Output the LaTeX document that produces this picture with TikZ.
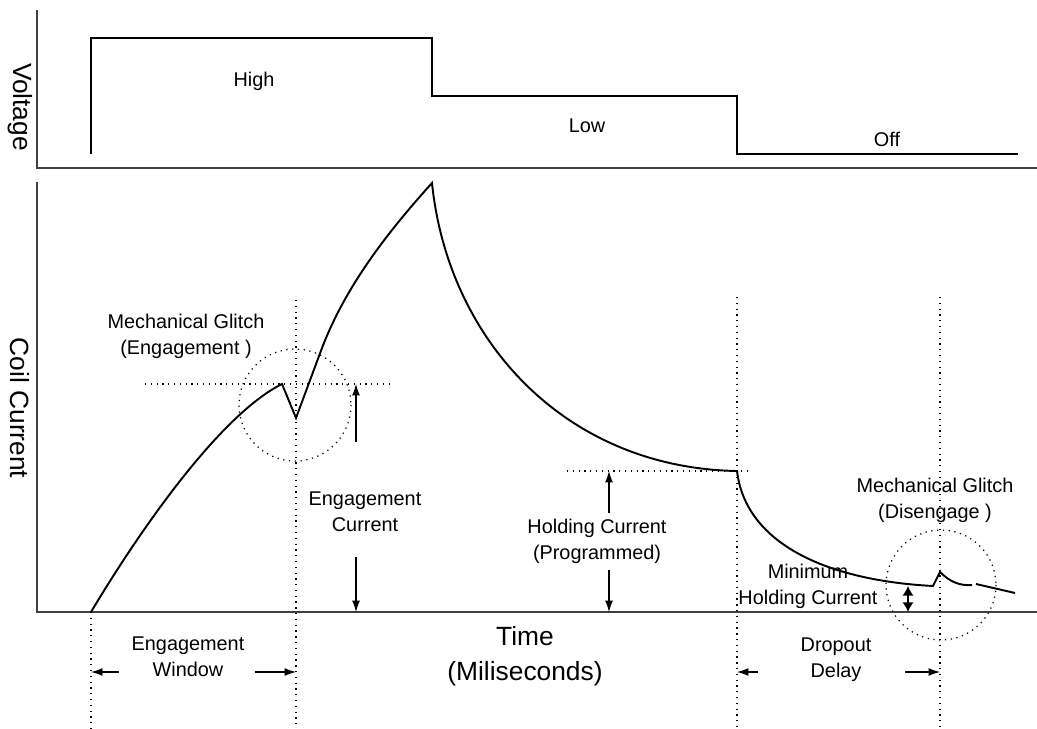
\documentclass[tikz,border=0pt]{standalone}
\usepackage{fontspec}
\setmainfont{Liberation Sans}
\usetikzlibrary{arrows.meta,positioning}

\tikzset{
  lbl/.style={align=center, font=\fontsize{11.3}{14.7}\selectfont, inner sep=0pt},
  big/.style={align=center, font=\fontsize{15}{19.8}\selectfont, inner sep=0pt},
  axis/.style={line width=0.8pt, black!75},
  wave/.style={line width=1.1pt, line join=miter},
  guide/.style={line width=0.7pt, dash pattern=on 0.7pt off 2.6pt},
  dim/.style={line width=0.6pt, -{Latex[length=6.5pt,width=4.5pt]}},
}

\begin{document}
\begin{tikzpicture}[x=0.02cm,y=-0.02cm]
\useasboundingbox (0,0) rectangle (1037,729);

% voltage panel
\draw[axis] (37,10) -- (37,168) -- (1037,168);
\draw[wave] (91,154) -- (91,38) -- (432,38) -- (432,96) -- (737,96) -- (737,154) -- (1018,154);
\node[big, rotate=-90] (volt) at (20,107) {Voltage};
\node[lbl] (high) at (254,81) {High};
\node[lbl] (low) at (587,126) {Low};
\node[lbl] (off) at (887,139) {Off};

% current panel
\draw[axis] (37,182) -- (37,612) -- (1037,612);
\node[big, rotate=-90] (coil) at (20,408) {Coil Current};
\node[big] (time) at (525,656) {Time\\(Miliseconds)};

\draw[wave] (91,612) .. controls (140,530) and (220,415) .. (282,384) -- (296,418)
  -- (322,348) .. controls (345,288) and (385,235) .. (432,183)
  .. controls (448,340) and (565,468) .. (737,471)
  .. controls (745,540) and (820,580) .. (933,586) -- (940,572)
  .. controls (950,582) and (960,586) .. (972,585);
\draw[wave] (976,584) -- (1015,593);

% guides
\draw[guide] (145,384) -- (390,384);
\draw[guide] (567,471) -- (747,471);
\draw[guide] (296,300) -- (296,729);
\draw[guide] (91,612) -- (91,729);
\draw[guide] (737,297) -- (737,729);
\draw[guide] (940,297) -- (940,729);
\draw[guide] (295,405) circle[radius=56];
\draw[guide] (941,585) circle[radius=55];

% glitch labels
\node[lbl] (glEng) at (186,336) {Mechanical Glitch\\(Engagement )};
\node[lbl] (glDis) at (935,500) {Mechanical Glitch\\(Disengage )};

% engagement current
\coordinate (ecTop) at (356,384);
\coordinate (ecBot) at (356,612);
\coordinate (ecA) at (356,442);
\coordinate (ecB) at (356,557);
\node[lbl] (ecLbl) at (365,512) {Engagement\\Current};
\draw[dim] (ecA) -- (ecTop);
\draw[dim] (ecB) -- (ecBot);

% holding current
\coordinate (hcTop) at (609,471);
\coordinate (hcBot) at (609,612);
\coordinate (hcA) at (609,513);
\coordinate (hcB) at (609,570);
\node[lbl] (hcLbl) at (597,541) {Holding Current\\(Programmed)};
\draw[dim] (hcA) -- (hcTop);
\draw[dim] (hcB) -- (hcBot);

% minimum holding current
\coordinate (mhTop) at (908,586);
\coordinate (mhBot) at (908,612);
\node[lbl] (mhLbl) at (808,586) {Minimum\\Holding Current};
\draw[line width=1.3pt, {Latex[length=5.5pt,width=6.5pt]}-{Latex[length=5.5pt,width=6.5pt]}] (mhTop) -- (mhBot);

% engagement window
\coordinate (ewL) at (91,672);
\coordinate (ewR) at (296,672);
\coordinate (ewA) at (119,672);
\coordinate (ewB) at (255,672);
\node[lbl] (ewLbl) at (188,657) {Engagement\\Window};
\draw[dim] (ewA) -- (ewL);
\draw[dim] (ewB) -- (ewR);

% dropout delay
\coordinate (ddL) at (737,672);
\coordinate (ddR) at (940,672);
\coordinate (ddA) at (758,672);
\coordinate (ddB) at (905,672);
\node[lbl] (ddLbl) at (836,660) {Dropout\\Delay};
\draw[dim] (ddA) -- (ddL);
\draw[dim] (ddB) -- (ddR);
\end{tikzpicture}
\end{document}
